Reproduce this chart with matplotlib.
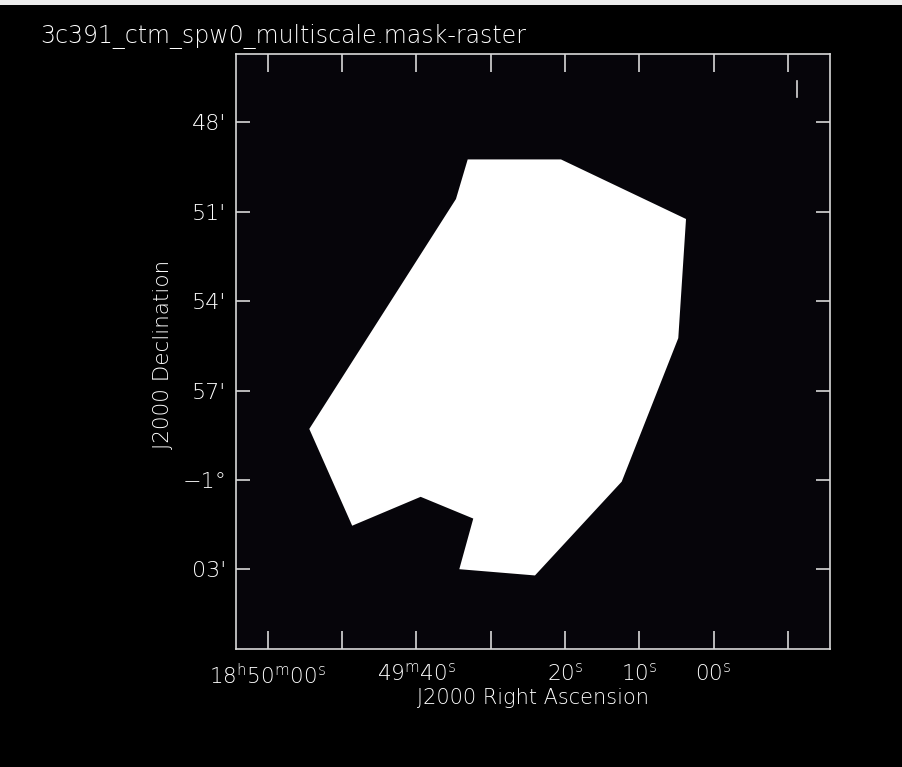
import matplotlib
matplotlib.use("Agg")
import matplotlib.pyplot as plt
from matplotlib.patches import Polygon, Rectangle

FONT = "DejaVu Sans"
plt.rcParams["font.family"] = [FONT]
plt.rcParams["font.weight"] = "light"
plt.rcParams["mathtext.fontset"] = "custom"
plt.rcParams["mathtext.rm"] = FONT + ":light"
plt.rcParams["mathtext.it"] = FONT + ":light"

title = "3c391_ctm_spw0_multiscale.mask-raster"

# Mask region vertices: RA in seconds past 18h49m00s, Dec in arcmin (south negative)
mask_ra = [33.09, 20.54, 3.72, 4.76, 12.37, 24.04, 34.22, 32.34, 39.42, 48.63, 54.40, 34.67]
mask_dec = [-49.24, -49.24, -51.24, -55.24, -60.06, -63.21, -63.00, -61.30,
            -60.57, -61.54, -58.29, -50.57]

ra_ticks = [60, 50, 40, 30, 20, 10, 0, -10]
ra_labels = [r"18$^{\rm h}$50$^{\rm m}$00$^{\rm s}$", "", r"49$^{\rm m}$40$^{\rm s}$", "",
             r"20$^{\rm s}$", r"10$^{\rm s}$", r"00$^{\rm s}$", ""]
dec_ticks = [-48, -51, -54, -57, -60, -63]
dec_labels = ["48'", "51'", "54'", "57'", "\u22121\u00b0", "03'"]

ra_limits = (64.26, -15.65)
dec_limits = (-65.68, -45.70)

# short marker stroke near the upper-right corner
marker_ra = [-11.17, -11.17]
marker_dec = [-46.60, -47.13]

FG = "#d8d8d8"
TXT = "#ffffff"
W, H = 902, 767
fig = plt.figure(figsize=(W / 100, H / 100), dpi=100, facecolor="black")

# light strip along the top edge
fig.patches.append(Rectangle((0, 1 - 5 / H), 1, 5 / H, transform=fig.transFigure,
                             facecolor="#ececec", edgecolor="none"))

ax = fig.add_axes([236 / W, 1 - 649 / H, (830 - 236) / W, (649 - 54) / H])
ax.set_facecolor("#06050a")

ax.add_patch(Polygon(list(zip(mask_ra, mask_dec)), closed=True,
                     facecolor="white", edgecolor="none"))
ax.plot(marker_ra, marker_dec, color=FG, lw=1.2)

ax.set_xlim(*ra_limits)
ax.set_ylim(*dec_limits)

ax.set_xticks(ra_ticks)
ax.set_xticklabels(ra_labels)
ax.set_yticks(dec_ticks)
ax.set_yticklabels(dec_labels)

for s in ax.spines.values():
    s.set_color(FG)
    s.set_linewidth(1.2)

ax.tick_params(axis="x", which="both", direction="in", length=13, width=1.2,
               color=FG, top=True, labelcolor=TXT, labelsize=15.5, pad=10)
ax.tick_params(axis="y", which="both", direction="in", length=10, width=1.2,
               color=FG, right=True, labelcolor=TXT, labelsize=16, pad=7)

fig.text(40 / W, 1 - 43 / H, title, color=TXT, fontsize=17, ha="left", va="baseline")
fig.text(533 / W, 1 - 698 / H, "J2000 Right Ascension", color=TXT, fontsize=15,
         ha="center", va="center")
fig.text(163 / W, 1 - 354 / H, "J2000 Declination", color=TXT, fontsize=15.5,
         ha="center", va="center", rotation=90)

fig.savefig("out.png", dpi=100, facecolor="black")
